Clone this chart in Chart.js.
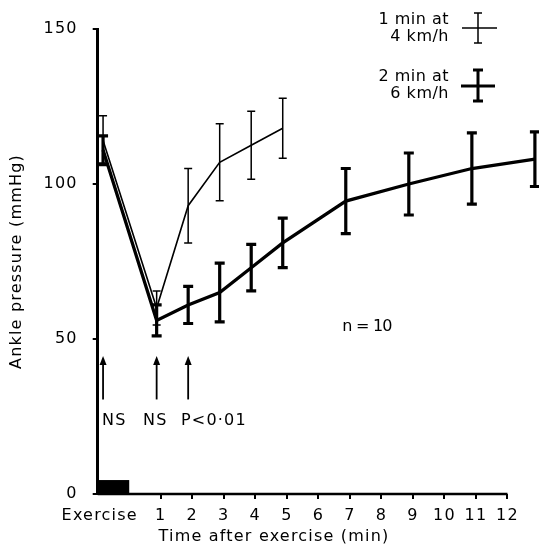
<!DOCTYPE html>
<html>
<head>
<meta charset="utf-8">
<script src="https://cdn.jsdelivr.net/npm/chart.js@4.4.1/dist/chart.umd.min.js"></script>
<style>
  html, body { margin: 0; padding: 0; background: #fff; }
  #wrap { width: 539px; height: 545px; }
</style>
</head>
<body>
<div id="wrap"><canvas id="chart"></canvas></div>
<script>
// Ankle pressure after exercise - two protocols

// 1 min at 4 km/h (thin line)
const thinTimes = [-0.7, 1, 2, 3, 4, 5];
const thinMeans = [114, 60, 93, 107, 112.5, 118];
const thinErrors = [8, 5.5, 12, 12.4, 11, 9.7];

// 2 min at 6 km/h (thick line)
const thickTimes = [-0.7, 1, 2, 3, 4, 5, 7, 9, 11, 13];
const thickMeans = [111, 56, 61, 65, 73, 81, 94.5, 100, 105, 108];
const thickErrors = [4.5, 5, 6, 9.5, 7.5, 8, 10.5, 10, 11.5, 8.8];

const xTickValues = [1, 2, 3, 4, 5, 6, 7, 8, 9, 10, 11, 12];
const xTickLabels = ['1', '2', '3', '4', '5', '6', '7', '8', '9', '10', '11', '12'];
const yTickValues = [0, 50, 100, 150];

// significance markers
const markTimes = [-0.7, 1, 2];
const markLabels = ['NS', 'NS', 'P<0·01'];

const FONT = "'DejaVu Sans', sans-serif";
const tickShift = 0.13; // printed ticks sit a little right of the plotted times

function toPoints(xs, ys) {
    return xs.map((x, i) => ({ x: x, y: ys[i] }));
}

// the printed lettering is rather widely spaced
const spacingPlugin = {
    id: 'spacing',
    beforeDraw(chart) {
        chart.ctx.letterSpacing = '1.2px';
    }
};

const errorBarPlugin = {
    id: 'errorBars',
    afterDatasetsDraw(chart) {
        const ctx = chart.ctx;
        const xs = chart.scales.x;
        const ys = chart.scales.y;
        const sets = [
            { t: thinTimes, m: thinMeans, e: thinErrors, lw: 1.5, cap: 4 },
            { t: thickTimes, m: thickMeans, e: thickErrors, lw: 3.2, cap: 5 }
        ];
        ctx.save();
        ctx.strokeStyle = '#000';
        sets.forEach(s => {
            ctx.lineWidth = s.lw;
            s.t.forEach((t, i) => {
                const px = xs.getPixelForValue(t);
                const top = ys.getPixelForValue(s.m[i] + s.e[i]);
                const bot = ys.getPixelForValue(s.m[i] - s.e[i]);
                ctx.beginPath();
                ctx.moveTo(px, top);
                ctx.lineTo(px, bot);
                ctx.moveTo(px - s.cap, top);
                ctx.lineTo(px + s.cap, top);
                ctx.moveTo(px - s.cap, bot);
                ctx.lineTo(px + s.cap, bot);
                ctx.stroke();
            });
        });
        ctx.restore();
    }
};

const decorPlugin = {
    id: 'decor',
    afterDraw(chart) {
        const ctx = chart.ctx;
        const xs = chart.scales.x;
        const ys = chart.scales.y;
        const area = chart.chartArea;
        ctx.save();
        ctx.fillStyle = '#000';
        ctx.strokeStyle = '#000';

        // x axis line, stops at the last tick
        ctx.lineWidth = 2.5;
        ctx.beginPath();
        ctx.moveTo(area.left, area.bottom);
        ctx.lineTo(xs.getPixelForValue(12 + tickShift), area.bottom);
        ctx.stroke();

        // exercise period block
        const bx0 = area.left;
        const bx1 = xs.getPixelForValue(0 + tickShift);
        const by = ys.getPixelForValue(4.5);
        ctx.fillRect(bx0, by, bx1 - bx0, area.bottom - by);

        // labels
        ctx.font = '16px ' + FONT;
        ctx.textBaseline = 'middle';
        ctx.textAlign = 'center';
        ctx.letterSpacing = '1.2px';
        ctx.fillText('Exercise', area.left + 2, area.bottom + 22);
        ctx.fillText('Time after exercise (min)', 274, 537);
        ctx.letterSpacing = '-0.8px';
        ctx.fillText('n = 10', 367, 327);

        // arrows with significance
        ctx.lineWidth = 1.8;
        markTimes.forEach((t, i) => {
            const px = xs.getPixelForValue(t);
            const yTip = ys.getPixelForValue(44.5);
            const yEnd = ys.getPixelForValue(30.5);
            ctx.beginPath();
            ctx.moveTo(px, yEnd);
            ctx.lineTo(px, yTip + 6);
            ctx.stroke();
            ctx.beginPath();
            ctx.moveTo(px, yTip);
            ctx.lineTo(px - 3.5, yTip + 9);
            ctx.lineTo(px + 3.5, yTip + 9);
            ctx.closePath();
            ctx.fill();
        });
        ctx.textAlign = 'left';
        ctx.letterSpacing = '1.2px';
        ctx.fillText(markLabels[0], 102, 421);
        ctx.fillText(markLabels[1], 143, 421);
        ctx.fillText(markLabels[2], 181, 421);

        // legend
        ctx.textAlign = 'right';
        ctx.letterSpacing = '0.5px';
        ctx.fillText('1 min at', 449, 20);
        ctx.fillText('4 km/h', 449, 37);
        ctx.fillText('2 min at', 449, 77);
        ctx.fillText('6 km/h', 449, 94);

        ctx.lineWidth = 1.5;
        ctx.beginPath();
        ctx.moveTo(462, 28); ctx.lineTo(497, 28);
        ctx.moveTo(478, 13); ctx.lineTo(478, 43);
        ctx.moveTo(474, 13); ctx.lineTo(482, 13);
        ctx.moveTo(474, 43); ctx.lineTo(482, 43);
        ctx.stroke();

        ctx.lineWidth = 3;
        ctx.beginPath();
        ctx.moveTo(461, 86); ctx.lineTo(495, 86);
        ctx.moveTo(478, 70); ctx.lineTo(478, 101);
        ctx.moveTo(473, 70); ctx.lineTo(483, 70);
        ctx.moveTo(473, 101); ctx.lineTo(483, 101);
        ctx.stroke();

        ctx.restore();
    }
};

new Chart(document.getElementById('chart'), {
    type: 'line',
    data: {
        datasets: [
            {
                label: '1 min at 4 km/h',
                data: toPoints(thinTimes, thinMeans),
                borderColor: '#000',
                borderWidth: 1.6,
                pointRadius: 0,
                tension: 0,
                fill: false
            },
            {
                label: '2 min at 6 km/h',
                data: toPoints(thickTimes, thickMeans),
                borderColor: '#000',
                borderWidth: 3.3,
                pointRadius: 0,
                tension: 0,
                fill: false
            }
        ]
    },
    options: {
        responsive: true,
        maintainAspectRatio: false,
        animation: false,
        layout: { padding: { top: 29, right: 0, left: 0, bottom: 0 } },
        plugins: {
            legend: { display: false },
            tooltip: { enabled: false }
        },
        scales: {
            x: {
                type: 'linear',
                min: -0.87,
                max: 13.13,
                afterBuildTicks: (scale) => {
                    scale.ticks = xTickValues.map(v => ({ value: v + tickShift }));
                },
                afterFit: (scale) => { scale.height = 51; },
                border: { display: false },
                grid: {
                    drawOnChartArea: false,
                    drawTicks: true,
                    tickLength: 5,
                    color: '#000',
                    lineWidth: 2
                },
                ticks: {
                    color: '#000',
                    font: { family: FONT, size: 16 },
                    padding: 7,
                    maxRotation: 0,
                    autoSkip: false,
                    callback: (value, index) => xTickLabels[index]
                }
            },
            y: {
                min: 0,
                max: 150,
                afterBuildTicks: (scale) => {
                    scale.ticks = yTickValues.map(v => ({ value: v }));
                },
                afterFit: (scale) => { scale.width = 97.7; },
                border: { display: true, color: '#000', width: 3 },
                grid: {
                    drawOnChartArea: false,
                    drawTicks: true,
                    tickLength: 5,
                    color: '#000',
                    lineWidth: 2
                },
                ticks: {
                    color: '#000',
                    font: { family: FONT, size: 16 },
                    padding: 15
                },
                title: {
                    display: true,
                    text: 'Ankle pressure (mmHg)',
                    color: '#000',
                    font: { family: FONT, size: 16 },
                    padding: { top: 7, bottom: 0 }
                }
            }
        }
    },
    plugins: [spacingPlugin, errorBarPlugin, decorPlugin]
});
</script>
</body>
</html>
